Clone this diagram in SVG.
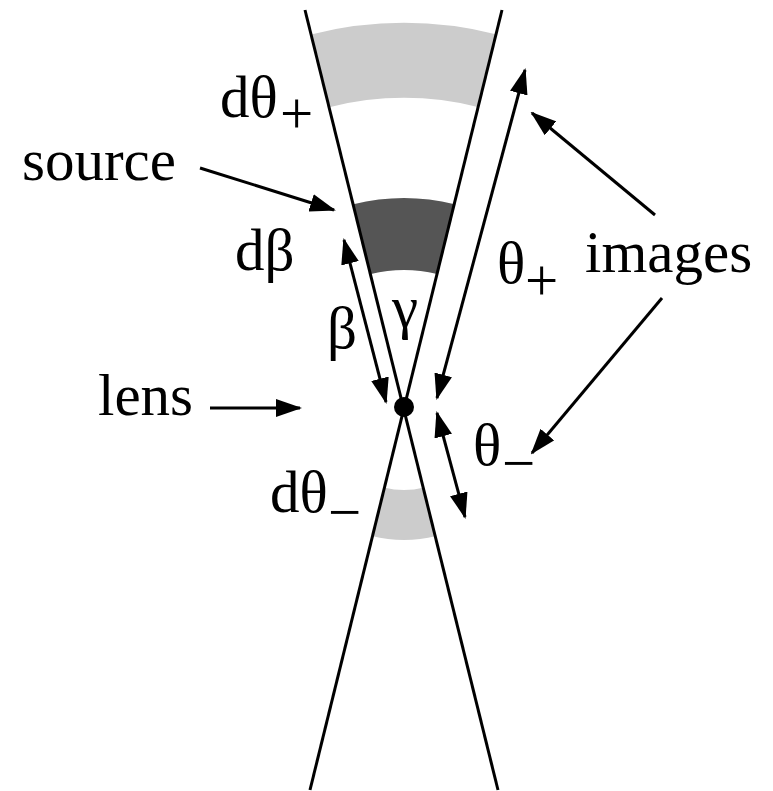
<svg xmlns="http://www.w3.org/2000/svg" width="773" height="791" viewBox="0 0 773 791">
<style>
text{font-family:"Liberation Serif","Times New Roman",serif;font-size:59px;fill:#000}
.ln{stroke:#000;stroke-width:3;fill:none}
.ar{stroke:#000;stroke-width:3;fill:none;marker-end:url(#ah)}
.dar{stroke:#000;stroke-width:3;fill:none;marker-end:url(#ah);marker-start:url(#ah)}
</style>
<defs>
<marker id="ah" markerUnits="userSpaceOnUse" markerWidth="26" markerHeight="18" refX="24" refY="9" orient="auto-start-reverse">
<path d="M0,0 L26,9 L0,18 z" fill="#000"/>
</marker>
</defs>
<rect width="773" height="791" fill="#fff"/>
<g id="bands">
<path id="band-top" d="M311.1,34.4 A384,384 0 0 1 496.9,34.4 L478.8,107.2 A309,309 0 0 0 329.2,107.2 Z" fill="#cccccc"/>
<path id="source-band" d="M353.4,204.2 A209,209 0 0 1 454.6,204.2 L437.1,274.1 A137,137 0 0 0 370.9,274.1 Z" fill="#555555"/>
<path id="band-bottom" d="M383.9,487.5 A83,83 0 0 0 424.1,487.5 L436.2,536 A133,133 0 0 1 371.8,536 Z" fill="#cccccc"/>
</g>
<g id="cone">
<line class="ln" x1="305" y1="10" x2="498" y2="790"/>
<line class="ln" x1="502" y1="10" x2="310" y2="790"/>
</g>
<g id="lens"><circle cx="404" cy="407" r="10" fill="#000"/></g>
<g id="connectors">
<line class="ar" x1="200" y1="168" x2="334" y2="210"/>
<line class="ar" x1="210" y1="408" x2="300" y2="408"/>
<line class="dar" x1="344" y1="240" x2="386" y2="402"/>
<line class="dar" x1="525" y1="70" x2="437" y2="398"/>
<line class="dar" x1="437" y1="413" x2="465" y2="517"/>
<line class="ar" x1="655" y1="215" x2="532" y2="113"/>
<line class="ar" x1="662" y1="298" x2="532" y2="453"/>
</g>
<g id="labels">
<text x="22" y="180">source</text>
<text x="585" y="272">images</text>
<text x="98" y="415">lens</text>
<text x="220" y="117">dθ</text><text x="280" y="133">+</text>
<text x="235" y="270">dβ</text>
<text x="327" y="348">β</text>
<text x="392" y="327">γ</text>
<text x="497" y="283">θ</text><text x="525" y="300">+</text>
<text x="270" y="512">dθ</text><text x="328" y="532">−</text>
<text x="473" y="465">θ</text><text x="502" y="483">−</text>
</g>
</svg>
